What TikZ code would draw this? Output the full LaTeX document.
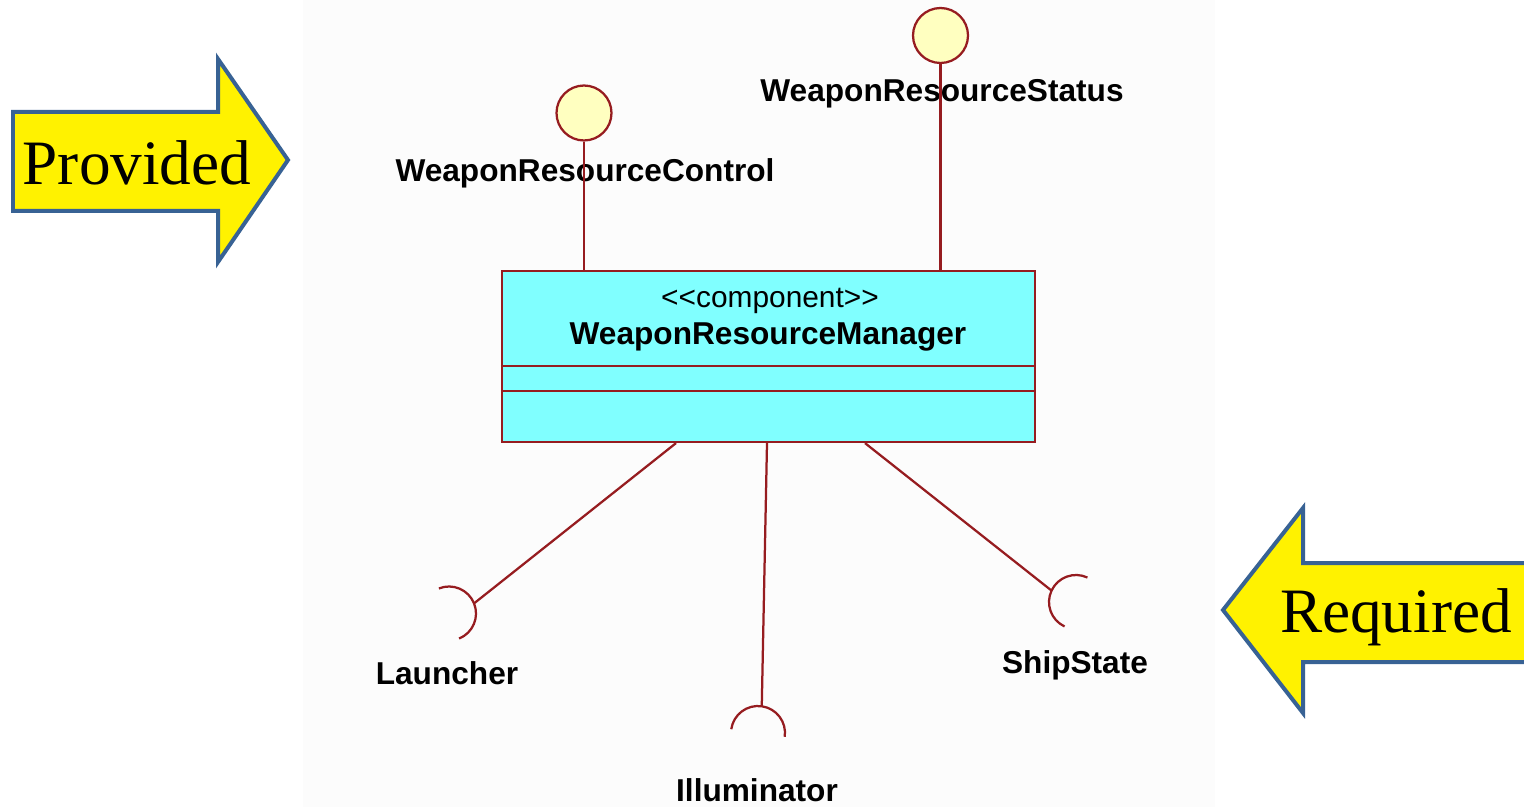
\documentclass[tikz,border=0pt]{standalone}
\usepackage{fontspec}
\setmainfont{Liberation Serif}
\newfontfamily\umlfont{Liberation Sans}
\usetikzlibrary{calc}

\definecolor{umlred}{RGB}{150,28,32}
\definecolor{ifaceyellow}{RGB}{255,255,192}
\definecolor{compcyan}{RGB}{128,255,255}
\definecolor{arrowblue}{RGB}{56,98,148}
\definecolor{paper}{RGB}{252,252,252}

\tikzset{
wire/.style={draw=umlred,line width=0.045cm},
iface/.style={circle,wire,fill=ifaceyellow,minimum size=1.1cm,inner sep=0pt},
compbox/.style={rectangle,wire,fill=compcyan,minimum width=10.66cm,minimum height=3.42cm,inner sep=0pt},
lbl/.style={font=\umlfont\bfseries\fontsize{18}{20}\selectfont,anchor=base,inner sep=0pt},
bigarrow/.style={draw=arrowblue,fill=yellow,line width=0.08cm},
bigtext/.style={font=\fontsize{36}{40}\selectfont,anchor=base,inner sep=0pt}
}

\begin{document}
\begin{tikzpicture}[x=0.02cm,y=-0.02cm]
\useasboundingbox (0,0) rectangle (1524,807);
\fill[paper] (303,0) rectangle (1215,807);

% Component with its two empty compartments
\node[compbox] (wrm) at (768.5,356.5) {};
\draw[wire] (wrm.west |- 0,366) -- (wrm.east |- 0,366);
\draw[wire] (wrm.west |- 0,391) -- (wrm.east |- 0,391);
\node[font=\umlfont\fontsize{17}{20}\selectfont,anchor=base,inner sep=0pt] (stereo)
  at (770,308) {\textless\kern0pt\textless component\textgreater\kern0pt\textgreater};
\node[lbl] (wrmname) at (768,345) {WeaponResourceManager};

% Provided interfaces
\node[lbl] (ctrlname) at (585,182) {WeaponResourceControl};
\node[lbl] (statusname) at (942,102) {WeaponResourceStatus};
\node[iface] (ctrl) at (584,113) {};
\node[iface] (status) at (940.5,35.5) {};
\draw[wire] (ctrl) -- (ctrl |- wrm.north);
\draw[wire] (status) -- (status |- wrm.north);

% Required interfaces
\coordinate (launcher) at (449,613.5);
\coordinate (illum) at (758,733);
\coordinate (ship) at (1076,602);
\coordinate (launchertip) at ($(launcher)+(-22:27)$);
\coordinate (illumtip) at ($(illum)+(-82:27)$);
\coordinate (shiptip) at ($(ship)+(-155:27)$);
\draw[wire] ([shift={(-112:27)}]launcher) arc[start angle=-112,end angle=68,radius=27];
\draw[wire] ([shift={(-172:27)}]illum) arc[start angle=-172,end angle=8,radius=27];
\draw[wire] ([shift={(-245:27)}]ship) arc[start angle=-245,end angle=-65,radius=27];
\draw[wire] ($(wrm.south)+(-92.5,0)$) -- (launchertip);
\draw[wire] ($(wrm.south)+(-1.5,0)$) -- (illumtip);
\draw[wire] ($(wrm.south)+(96.5,0)$) -- (shiptip);
\node[lbl] (launchername) at (447,684) {Launcher};
\node[lbl] (illumname) at (757,801) {Illuminator};
\node[lbl] (shipname) at (1075,673) {ShipState};

% Big arrows
\draw[bigarrow] (13,112) -- (218,112) -- (218,59) -- (288,160) -- (218,262) -- (218,211) -- (13,211) -- cycle;
\node[bigtext] (provided) at (137,185) {Provided};
\draw[bigarrow] (1524,563) -- (1303,563) -- (1303,508) -- (1223,610) -- (1303,713) -- (1303,662) -- (1524,662);
\node[bigtext] (required) at (1396,632) {Required};

\end{tikzpicture}
\end{document}
